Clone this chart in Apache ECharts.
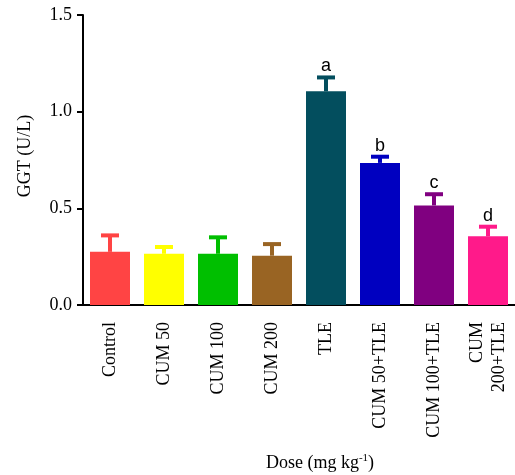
<!DOCTYPE html>
<html><head><meta charset="utf-8">
<script src="https://cdn.jsdelivr.net/npm/echarts@6/dist/echarts.min.js"></script>
<style>html,body{margin:0;padding:0;background:#fff}#c{width:515px;height:475px}</style>
</head><body><div id="c"></div>
<script>
const categories = ['Control','CUM 50','CUM 100','CUM 200','TLE','CUM 50+TLE','CUM 100+TLE','CUM\n200+TLE'];
const means = [0.275, 0.265, 0.265, 0.255, 1.105, 0.735, 0.515, 0.355];
const errors = [0.085, 0.035, 0.085, 0.06, 0.072, 0.032, 0.058, 0.05];
const letters = ['', '', '', '', 'a', 'b', 'c', 'd'];
const colors = ['#FF4444','#FFFF00','#00BF00','#996423','#034E5E','#0000C0','#800080','#FF1A8A'];
const yTicks = [0, 0.5, 1.0, 1.5];

const chart = echarts.init(document.getElementById('c'));
const serif = 'Liberation Serif';
chart.setOption({
  animation: false,
  grid: {left: 83, right: 0, top: 15, bottom: 170, outerBoundsMode: 'none', containLabel: false},
  xAxis: {
    type: 'category', data: categories,
    axisLine: {lineStyle: {color: '#000', width: 2}},
    axisTick: {alignWithLabel: true, length: 6, lineStyle: {color: '#000', width: 2}},
    axisLabel: {rotate: 90, interval: 0, color: '#000', fontFamily: serif, fontSize: 18, margin: 17, lineHeight: 22},
    name: '{a|Dose (mg kg}{s|-1}{a|)}', nameLocation: 'middle', nameGap: 148,
    nameTextStyle: {padding: [0, 0, 0, 42], rich: {a: {fontFamily: serif, fontSize: 18, color: '#000'}, s: {fontFamily: serif, fontSize: 11, color: '#000', verticalAlign: 'top', padding: [0,0,9,0]}}}
  },
  yAxis: {
    type: 'value', min: 0, max: 1.5, interval: 0.5,
    splitLine: {show: false},
    axisLine: {show: true, lineStyle: {color: '#000', width: 2}},
    axisTick: {show: true, length: 6, lineStyle: {color: '#000', width: 2}},
    axisLabel: {color: '#000', fontFamily: serif, fontSize: 18, margin: 11, formatter: v => v.toFixed(1)},
    name: 'GGT (U/L)', nameLocation: 'middle', nameGap: 49,
    nameTextStyle: {fontFamily: serif, fontSize: 18, color: '#000', padding: [0, 0, 0, 8]}
  },
  series: [
    {
      type: 'bar', barWidth: 40,
      data: means.map((v, i) => ({value: v, itemStyle: {color: colors[i]}})),
      z: 2
    },
    {
      type: 'custom',
      z: 3,
      data: means.map((v, i) => [i, v, v + errors[i]]),
      renderItem: function (params, api) {
        const i = api.value(0);
        const base = api.coord([i, api.value(1)]);
        const top = api.coord([i, api.value(2)]);
        const col = colors[i];
        const children = [
          {type: 'line', shape: {x1: base[0], y1: base[1], x2: top[0], y2: top[1]}, style: {stroke: col, lineWidth: 4}},
          {type: 'line', shape: {x1: top[0] - 9, y1: top[1], x2: top[0] + 9, y2: top[1]}, style: {stroke: col, lineWidth: 4}}
        ];
        if (letters[i]) {
          children.push({type: 'text', style: {text: letters[i], x: top[0], y: top[1] - 2, align: 'center', verticalAlign: 'bottom', fontFamily: 'Liberation Sans', fontSize: 18, fill: '#000'}});
        }
        return {type: 'group', children: children};
      }
    }
  ]
});
</script></body></html>
